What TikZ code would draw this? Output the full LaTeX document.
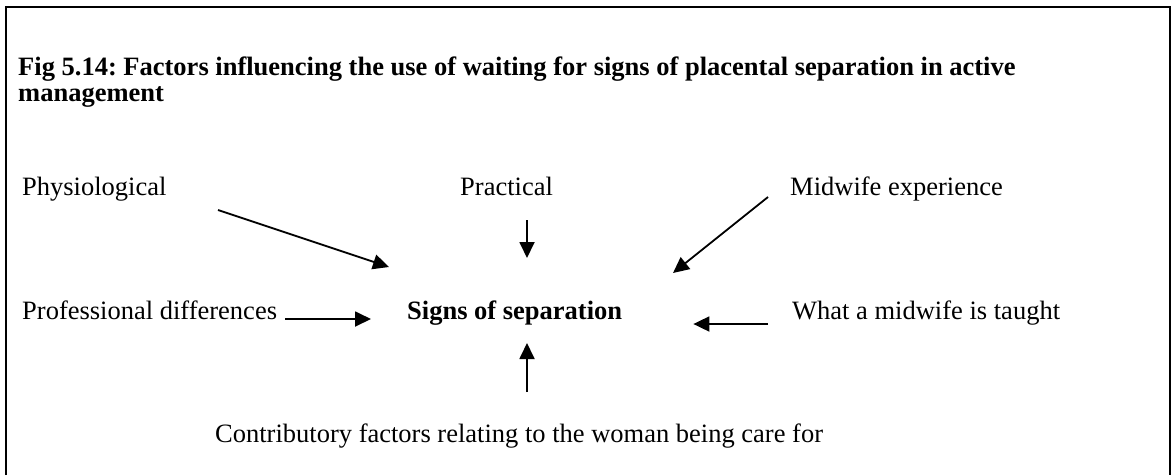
\documentclass[tikz,border=0pt]{standalone}
\usepackage{fontspec}
\setmainfont{Liberation Serif}
\usetikzlibrary{arrows.meta}
\frenchspacing

\tikzset{
  factor/.style={anchor=base west, inner sep=0pt, font=\fontsize{26.5}{30}\selectfont},
  centre/.style={factor, font=\fontsize{26.5}{30}\selectfont\bfseries},
  infl/.style={line width=1.8pt, -{Triangle[length=16pt,width=15pt]}},
}

\begin{document}
\begin{tikzpicture}[x=1pt,y=-1pt]
\useasboundingbox (0,0) rectangle (1172,475);
% frame (open at the bottom)
\draw[line width=2pt] (6,475) -- (6,7) -- (1170,7) -- (1170,475);

% heading
\node[anchor=north west, inner sep=0pt, align=left, font=\fontsize{26.5}{25.5}\selectfont\bfseries] (heading) at (18,57)
  {Fig 5.14: Factors influencing the use of waiting for signs of placental separation in active\\management};

% factors round the centre
\node[factor] (phys) at (22,195) {Physiological};
\node[factor] (prac) at (460,195) {Practical};
\node[factor] (exp) at (790,195) {Midwife experience};
\node[factor] (prof) at (22,319) {Professional differences};
\node[centre] (signs) at (407,319) {Signs of separation};
\node[factor] (taught) at (792,319) {What a midwife is taught};
\node[factor] (woman) at (215,442) {Contributory factors relating to the woman being care for};

% arrow ends
\coordinate (physA) at (218,210);
\coordinate (physB) at (389,267);
\coordinate (pracA) at (527,220);
\coordinate (pracB) at (527,258);
\coordinate (expA) at (768,197);
\coordinate (expB) at (673,273);
\coordinate (womA) at (527,392);
\coordinate (womB) at (527,343);

% arrows
\draw[infl] (physA) -- (physB);
\draw[infl] (pracA) -- (pracB);
\draw[infl] (expA) -- (expB);
\draw[infl, shorten <=8pt, shorten >=36pt] (prof.base east) -- (signs.base west);
\draw[infl, shorten <=24pt, shorten >=71pt] ([yshift=-5pt]taught.base west) -- ([yshift=-5pt]signs.base east);
\draw[infl] (womA) -- (womB);
\end{tikzpicture}
\end{document}
